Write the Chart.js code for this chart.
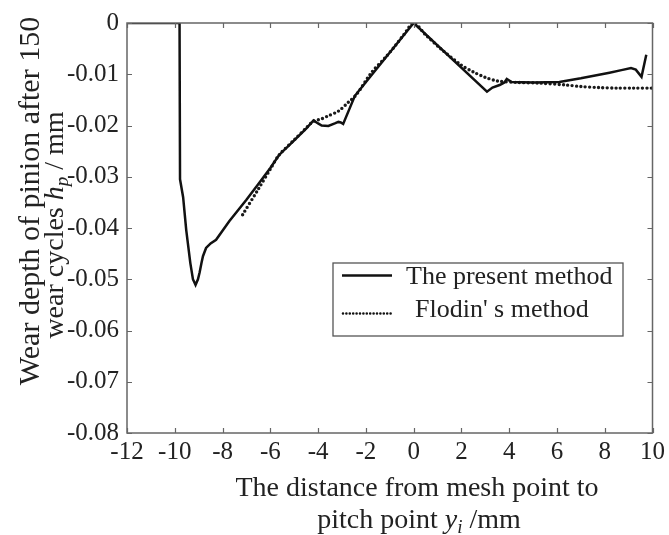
<!DOCTYPE html>
<html>
<head>
<meta charset="utf-8">
<script src="https://cdn.jsdelivr.net/npm/chart.js@4"></script>
<style>
  html, body { margin: 0; padding: 0; background: #fff; }
  #wrap { width: 669px; height: 535px; }
</style>
</head>
<body>
<div id="wrap"><canvas id="chart-wear"></canvas></div>
<script>
// present method (solid)
var presentX = [-12, -9.8, -9.78, -9.65, -9.52, -9.35, -9.24, -9.13, -9.03, -8.96, -8.88, -8.82, -8.69, -8.5, -8.27, -7.72, -7.0, -6.5, -6.0, -5.64, -5.0, -4.5, -4.19, -4.0, -3.85, -3.57, -3.3, -3.15, -3.05, -2.95, -2.46, 0, 3.07, 3.3, 3.6, 3.8, 3.9, 4.1, 5.0, 6.1, 7.0, 8.2, 8.7, 9.1, 9.3, 9.54, 9.74];
var presentY = [0, 0, -0.0305, -0.034, -0.0404, -0.0468, -0.050, -0.0511, -0.0500, -0.0487, -0.0468, -0.0455, -0.0439, -0.0430, -0.0423, -0.0387, -0.0345, -0.0314, -0.0283, -0.0258, -0.0229, -0.0206, -0.0190, -0.0196, -0.0200, -0.0201, -0.0196, -0.0193, -0.0194, -0.0197, -0.0142, 0, -0.0134, -0.0126, -0.0121, -0.0116, -0.0109, -0.0115, -0.0116, -0.0115, -0.0108, -0.0097, -0.0092, -0.0088, -0.0091, -0.0105, -0.0062];

// Flodin's method (dotted)
var flodinX = [-7.16, -6.5, -6.0, -5.64, -5.0, -4.5, -4.2, -3.85, -3.57, -3.15, -2.74, -2.4, -1.77, -1.2, -0.8, -0.4, 0, 0.5, 1.13, 1.96, 2.52, 3.0, 3.49, 4.36, 5.2, 6.39, 7.0, 7.77, 8.5, 9.2, 10];
var flodinY = [-0.0374, -0.0324, -0.0285, -0.0258, -0.0228, -0.0205, -0.0192, -0.0187, -0.0181, -0.0172, -0.0155, -0.0140, -0.0097, -0.0068, -0.0046, -0.0022, 0, -0.0023, -0.0050, -0.0081, -0.0096, -0.0106, -0.0113, -0.0116, -0.0117, -0.0121, -0.0124, -0.0126, -0.0127, -0.0127, -0.0127];

var seriesNames = ["The present method", "Flodin' s method"];
var xTicks = [-12, -10, -8, -6, -4, -2, 0, 2, 4, 6, 8, 10];
var yTicks = [0, -0.01, -0.02, -0.03, -0.04, -0.05, -0.06, -0.07, -0.08];

function toPoints(xs, ys) {
  return xs.map(function (x, i) {
    return { x: x, y: ys[i] };
  });
}

var SERIF = "'Liberation Serif', 'DejaVu Serif', serif";
var AXIS_COLOR = "#666";
var TEXT_COLOR = "#222";

// draws box frame, inward ticks, legend and axis titles
var decorations = {
  id: "decorations",
  afterDraw: function (chart) {
    var c = chart.ctx;
    var a = chart.chartArea;
    var xs = chart.scales.x;
    var ys = chart.scales.y;
    c.save();

    // frame
    c.strokeStyle = AXIS_COLOR;
    c.lineWidth = 1.5;
    c.strokeRect(a.left, a.top, a.right - a.left, a.bottom - a.top);

    // inward ticks
    c.lineWidth = 1.2;
    c.beginPath();
    xTicks.forEach(function (t) {
      var px = Math.round(xs.getPixelForValue(t)) + 0.5;
      c.moveTo(px, a.bottom);
      c.lineTo(px, a.bottom - 5);
      c.moveTo(px, a.top);
      c.lineTo(px, a.top + 5);
    });
    yTicks.forEach(function (t) {
      var py = Math.round(ys.getPixelForValue(t)) + 0.5;
      c.moveTo(a.left, py);
      c.lineTo(a.left + 5, py);
      c.moveTo(a.right, py);
      c.lineTo(a.right - 5, py);
    });
    c.stroke();

    // legend
    c.fillStyle = "#fff";
    c.fillRect(333, 263, 290, 73);
    c.strokeStyle = "#555";
    c.lineWidth = 1.3;
    c.strokeRect(333, 263, 290, 73);
    c.strokeStyle = "#111";
    c.lineWidth = 2.5;
    c.beginPath();
    c.moveTo(342, 275.5);
    c.lineTo(392, 275.5);
    c.stroke();
    c.lineCap = "round";
    c.setLineDash([0, 3.4]);
    c.lineWidth = 2.6;
    c.beginPath();
    c.moveTo(343, 313.5);
    c.lineTo(391, 313.5);
    c.stroke();
    c.setLineDash([]);
    c.lineCap = "butt";
    c.fillStyle = TEXT_COLOR;
    c.font = "26px " + SERIF;
    c.textBaseline = "middle";
    c.textAlign = "left";
    c.fillText(chart.data.datasets[0].label, 406, 277);
    c.fillText(chart.data.datasets[1].label, 415, 310);

    // x axis title
    c.font = "28px " + SERIF;
    c.textAlign = "center";
    c.textBaseline = "alphabetic";
    c.fillText("The distance from mesh point to", 417, 496);
    drawRuns(c, [
      { t: "pitch point ", f: "28px " + SERIF, dy: 0 },
      { t: "y", f: "italic 28px " + SERIF, dy: 0 },
      { t: "i", f: "italic 19px " + SERIF, dy: 5 },
      { t: " /mm", f: "28px " + SERIF, dy: 0 }
    ], 419, 528);

    // y axis title (rotated)
    c.save();
    c.translate(39, 201);
    c.rotate(-Math.PI / 2);
    c.font = "30px " + SERIF;
    c.textAlign = "center";
    c.fillText("Wear depth of pinion after 150", 0, 0);
    c.restore();
    c.save();
    c.translate(63, 225);
    c.rotate(-Math.PI / 2);
    drawRuns(c, [
      { t: "wear cycles ", f: "28px " + SERIF, dy: 0 },
      { t: "h", f: "italic 28px " + SERIF, dy: 0 },
      { t: "p", f: "italic 19px " + SERIF, dy: 5 },
      { t: " / mm", f: "28px " + SERIF, dy: 0 }
    ], 0, 0);
    c.restore();

    c.restore();
  }
};

// centered text made of runs with different fonts
function drawRuns(c, runs, cx, y) {
  var total = 0;
  runs.forEach(function (r) {
    c.font = r.f;
    r.w = c.measureText(r.t).width;
    total += r.w;
  });
  var x = cx - total / 2;
  c.textAlign = "left";
  c.textBaseline = "alphabetic";
  runs.forEach(function (r) {
    c.font = r.f;
    c.fillText(r.t, x, y + r.dy);
    x += r.w;
  });
}

var ctx = document.getElementById("chart-wear").getContext("2d");

new Chart(ctx, {
  type: "line",
  data: {
    datasets: [
      {
        label: seriesNames[0],
        data: toPoints(presentX, presentY),
        borderColor: "#111",
        borderWidth: 2.5,
        pointRadius: 0,
        tension: 0,
        fill: false,
      },
      {
        label: seriesNames[1],
        data: toPoints(flodinX, flodinY),
        borderColor: "#1a1a1a",
        borderWidth: 3.4,
        borderDash: [0, 4.4],
        borderCapStyle: "round",
        pointRadius: 0,
        tension: 0.3,
        fill: false,
      },
    ],
  },
  options: {
    responsive: true,
    maintainAspectRatio: false,
    animation: false,
    layout: {
      padding: { left: 0, right: 13, top: 16, bottom: 0 },
    },
    plugins: {
      legend: { display: false },
      tooltip: { enabled: false },
    },
    scales: {
      x: {
        type: "linear",
        min: -12,
        max: 10,
        afterBuildTicks: function (scale) {
          scale.ticks = xTicks.map(function (v) { return { value: v }; });
        },
        afterFit: function (scale) {
          scale.height = 102;
        },
        grid: { display: false, drawTicks: false },
        border: { display: false },
        ticks: {
          padding: 4,
          maxRotation: 0,
          autoSkip: false,
          font: { size: 25, family: SERIF },
          color: TEXT_COLOR,
        },
      },
      y: {
        type: "linear",
        min: -0.08,
        max: 0,
        afterBuildTicks: function (scale) {
          scale.ticks = yTicks.map(function (v) { return { value: v }; });
        },
        afterFit: function (scale) {
          scale.width = 127;
        },
        grid: { display: false, drawTicks: false },
        border: { display: false },
        ticks: {
          padding: 8,
          autoSkip: false,
          callback: function (value) {
            var v = Math.round(value * 100) / 100;
            return v === 0 ? "0" : v.toFixed(2);
          },
          font: { size: 25, family: SERIF },
          color: TEXT_COLOR,
        },
      },
    },
  },
  plugins: [decorations],
});
</script>
</body>
</html>
